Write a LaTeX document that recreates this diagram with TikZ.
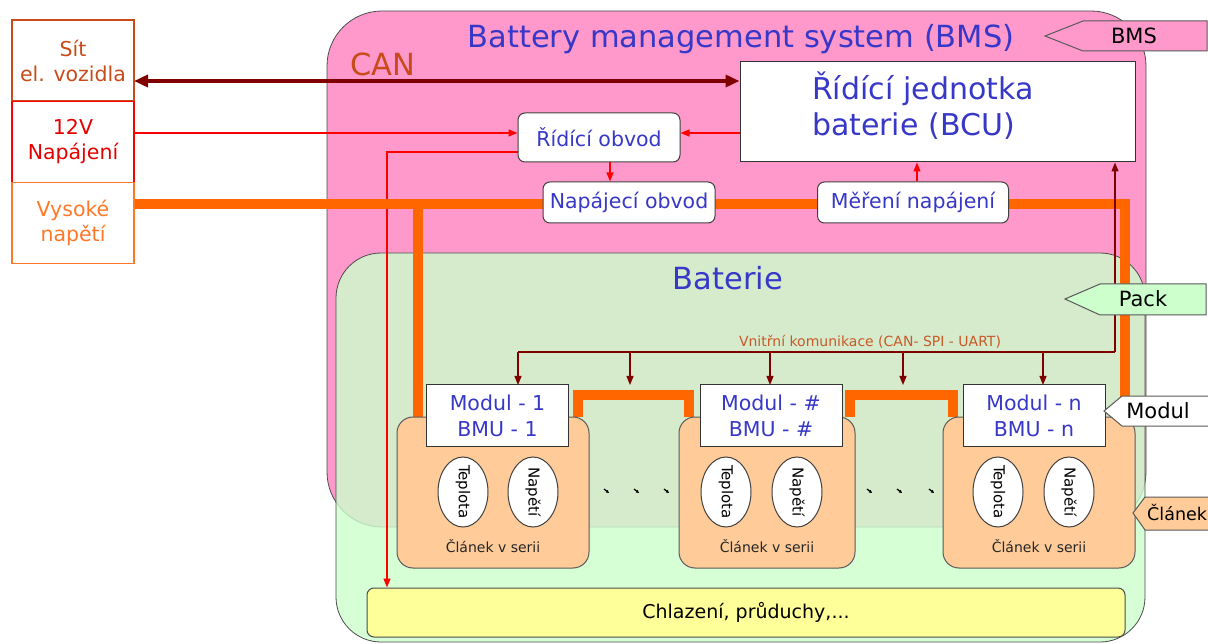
\documentclass[tikz,border=0pt]{standalone}
\usepackage{fontspec}
\setmainfont{DejaVu Sans}
\usepackage{tikz}
\usetikzlibrary{arrows.meta, positioning, calc, shapes.geometric}
\definecolor{bmsruz}{RGB}{255,153,204}
\definecolor{packzel}{RGB}{204,255,204}
\definecolor{clbarva}{RGB}{255,204,153}
\definecolor{chlzlut}{RGB}{255,255,153}
\definecolor{textmodr}{RGB}{55,55,200}
\definecolor{tmcerv}{RGB}{128,0,0}
\definecolor{vnoranz}{RGB}{255,102,0}
\definecolor{sitbarva}{RGB}{200,75,25}
\definecolor{vysbarva}{RGB}{255,120,40}
\definecolor{komtext}{RGB}{200,90,40}
\pgfdeclarelayer{pozadi}
\pgfsetlayers{pozadi,main}
\tikzset{
    oblastbms/.style  = {draw=black!70, line width=0.8pt, fill=bmsruz, rounded corners=55pt},
    oblastpack/.style = {draw=black!70, line width=0.8pt, fill=packzel, fill opacity=0.8, rounded corners=45pt},
    vnejsi/.style     = {minimum width=122pt, minimum height=81pt, inner sep=0pt, outer sep=0pt,
                         fill=white, line width=1.6pt, align=center, font=\fontsize{20.5}{25}\selectfont},
    nadpis/.style     = {text=textmodr, inner sep=0pt, font=\fontsize{30.5}{35}\selectfont},
    bcu/.style        = {draw=black!80, fill=white, line width=1pt, minimum height=100pt, text width=251pt,
                         inner xsep=72pt, inner ysep=0pt, text depth=52pt, align=left, text=textmodr,
                         font=\fontsize{30}{36}\selectfont},
    blok/.style       = {draw=black!75, fill=white, line width=1pt, rounded corners=7pt, inner sep=0pt,
                         text=textmodr, font=\fontsize{20.5}{24}\selectfont},
    modul/.style      = {draw=black!80, fill=white, line width=1pt, minimum width=142pt, minimum height=61pt,
                         inner sep=0pt, align=center, text=textmodr, font=\fontsize{20.5}{26}\selectfont},
    clanek/.style     = {draw=black!65, fill=clbarva, line width=1pt, rounded corners=16pt,
                         minimum height=151pt, inner sep=0pt},
    clpopis/.style    = {anchor=south, yshift=16pt, inner sep=0pt, text=black!85, font=\fontsize{14}{16}\selectfont},
    cidlo/.style      = {ellipse, draw=black!75, fill=white, line width=1pt, minimum width=70pt,
                         minimum height=50pt, inner sep=0pt, rotate=-90, font=\fontsize{15}{18}\selectfont},
    chlazeni/.style   = {draw=black!70, fill=chlzlut, line width=1pt, rounded corners=7pt, minimum width=758pt,
                         minimum height=49pt, font=\fontsize{19}{22}\selectfont},
    stitek/.style     = {draw=black!65, line width=1pt},
    stitektext/.style = {inner sep=0pt, font=\fontsize{21}{24}\selectfont},
    vn/.style         = {draw=vnoranz, line width=10pt},
    canline/.style    = {{Triangle[length=14pt,width=12pt]}-{Triangle[length=14pt,width=12pt]}, draw=tmcerv, line width=4pt},
    rizeni/.style     = {-{Triangle[length=9pt,width=7pt]}, draw=red, line width=1.4pt},
    sbernice/.style   = {-{Triangle[length=9pt,width=7pt]}, draw=tmcerv, line width=1.2pt},
    kompopis/.style   = {text=komtext, inner sep=0pt, font=\fontsize{14}{16}\selectfont},
    tecka/.style      = {-{Triangle[length=3pt,width=3pt]}, line width=1.2pt},
}

\begin{document}
\begin{tikzpicture}[x=1pt, y=-1pt]
    \useasboundingbox (0,0) rectangle (1208,644);
    \node[vnejsi, draw=sitbarva, text=sitbarva] (sit) at (73,60.5) {Sít\\el. vozidla};
    \node[vnejsi, draw=red, text=red!90!black] (nap) at (73,142) {12V\\Napájení};
    \node[vnejsi, draw=vysbarva, text=vysbarva] (vys) at (73,223) {Vysoké\\napětí};
    \node[nadpis] (bmsnadpis) at (741,39) {Battery management system (BMS)};
    \node[nadpis, text=sitbarva] (can) at (383,64) {CAN};
    \node[bcu] (bcu) at (937.5,112) {Řídící jednotka\\baterie (BCU)};
    \node[blok, minimum width=162pt, minimum height=49pt] (rid) at (599,137.5) {Řídící obvod};
    \node[blok, minimum width=172pt, minimum height=41pt] (napo) at (629,202.5) {Napájecí obvod};
    \node[blok, minimum width=191pt, minimum height=41pt] (mer) at (913,202.5) {Měření napájení};
    \node[nadpis] (baterie) at (728,278) {Baterie};
    \foreach \i/\pc/\pw/\mc/\tx/\nx/\lab in {1/493/192/497.5/463/533/1, 2/767/176/771/726/797/{\#}, 3/1039/192/1034/998/1069/n} {
        \node[clanek, minimum width=\pw pt, label={[clpopis]south:Článek v serii}] (cl\i) at (\pc,492.5) {};
        \node[modul] (m\i) at (\mc,415.5) {Modul - \lab\\BMU - \lab};
        \node[cidlo] (tep\i) at (\tx,492) {\makebox[40pt]{Teplota}};
        \node[cidlo] (nap\i) at (\nx,492) {\makebox[40pt]{Napětí}};
    }
    \foreach \x in {607,637,667,870,900,932} \draw[tecka] (\x-3,489) -- (\x+2,493);
    \node[chlazeni] (chl) at (746,612.5) {Chlazení, průduchy,...};
    \draw[stitek, fill=bmsruz] (1045,36) -- (1083,21) -- (1207,21) -- (1207,51) -- (1083,51) -- cycle;
    \node[stitektext] (sbms) at (1134,36) {BMS};
    \draw[stitek, fill=packzel] (1065,299) -- (1100,284) -- (1206,284) -- (1206,315) -- (1100,315) -- cycle;
    \node[stitektext] (spack) at (1143,299) {Pack};
    \draw[stitek, fill=white] (1104,411) -- (1122,396) -- (1212,396) -- (1212,426) -- (1122,426) -- cycle;
    \node[stitektext] (smodul) at (1158,411) {Modul};
    \draw[stitek, fill=clbarva] (1133,513) -- (1145,497) -- (1215,497) -- (1215,530) -- (1145,530) -- cycle;
    \node[stitektext, anchor=west, font=\fontsize{17.5}{20}\selectfont] (sclanek) at (1147,513) {Článek};
    \draw[canline] (sit.east |- 0,81) -- (bcu.west |- 0,81);
    \draw[rizeni] (nap.east |- 0,133) -- (rid.west |- 0,133);
    \draw[rizeni] (bcu.west |- 0,133) -- (rid.east |- 0,133);
    \draw[rizeni] (rid.south -| 610,0) -- (napo.north -| 610,0);
    \draw[rizeni] (mer.north -| 917,0) -- (bcu.south -| 917,0);
    \coordinate (busL) at (518,352);
    \coordinate (busR) at (1115,352);
    \node[kompopis] (kom) at (870,342) {Vnitřní komunikace (CAN- SPI - UART)};
    \begin{pgfonlayer}{pozadi}
        \draw[oblastbms] (327,11) rectangle (1146,527);
        \draw[oblastpack] (336,253) rectangle (1145,642);
        \draw[rizeni] (rid.west |- 0,152) -| (chl.north -| 387,0);
        \draw[vn] (vys.east |- 0,204) -| (cl3.north -| 1125,0);
        \draw[vn] (418,204) -- (cl1.north -| 418,0);
        \draw[vn] (cl1.north -| 578,0) -- (578,395) -| (cl2.north -| 689,0);
        \draw[vn] (cl2.north -| 850,0) -- (850,395) -| (cl3.north -| 953,0);
        \draw[sbernice] (busR) -- (bcu.south -| busR);
        \draw[sbernice, -] (busL) -- (busR);
        \foreach \x in {518,630,770,903,1043} \draw[sbernice] (\x,352) -- (\x,385);
    \end{pgfonlayer}
\end{tikzpicture}
\end{document}
